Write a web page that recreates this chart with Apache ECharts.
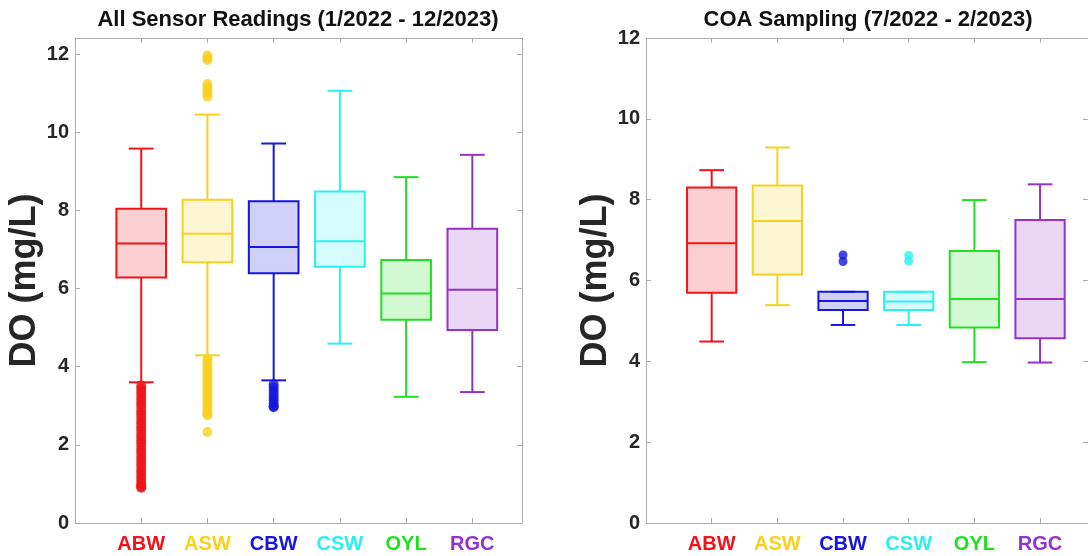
<!DOCTYPE html>
<html>
<head>
<meta charset="utf-8">
<script src="https://cdn.jsdelivr.net/npm/echarts@6/dist/echarts.min.js"></script>
<style>
html,body{margin:0;padding:0;background:#ffffff;}
#chart{width:1088px;height:556px;}
</style>
</head>
<body>
<div id="chart"></div>
<script>
// ---------- data ----------
const categories = ['ABW', 'ASW', 'CBW', 'CSW', 'OYL', 'RGC'];
const colors = ['#ee1419', '#f7d11e', '#1616dc', '#2cf0f0', '#20e020', '#9432cc'];
const yTicks = [0, 2, 4, 6, 8, 10, 12];
const xTicks = [1, 2, 3, 4, 5, 6];

// All Sensor Readings (1/2022 - 12/2023)
const leftLow    = [3.60, 4.29, 3.65, 4.59, 3.23, 3.35];
const leftQ1     = [6.28, 6.67, 6.39, 6.56, 5.20, 4.94];
const leftMedian = [7.15, 7.40, 7.06, 7.21, 5.87, 5.97];
const leftQ3     = [8.04, 8.27, 8.23, 8.48, 6.73, 7.53];
const leftHigh   = [9.58, 10.45, 9.71, 11.06, 8.85, 9.42];

const leftOutABW = [3.52, 3.44, 3.36, 3.28, 3.19, 3.11, 3.03, 2.95, 2.86, 2.78, 2.70, 2.61, 2.53,
                    2.45, 2.37, 2.28, 2.20, 2.12, 2.04, 1.95, 1.87, 1.79, 1.70, 1.62, 1.54, 1.46,
                    1.37, 1.29, 1.21, 1.13, 1.05, 0.98, 0.93, 0.90];
const leftOutASW = [11.96, 11.90, 11.85, 11.23, 11.15, 11.07, 10.99, 10.91,
                    4.21, 4.13, 4.05, 3.96, 3.88, 3.80, 3.71, 3.63, 3.55, 3.46, 3.38, 3.30,
                    3.21, 3.13, 3.05, 2.96, 2.88, 2.80, 2.76, 2.33];
const leftOutCBW = [3.55, 3.47, 3.39, 3.30, 3.22, 3.14, 3.06, 2.99, 2.96];
const leftOutCSW = [];
const leftOutOYL = [];
const leftOutRGC = [];

// COA Sampling (7/2022 - 2/2023)
const rightLow    = [4.49, 5.39, 4.90, 4.90, 3.98, 3.97];
const rightQ1     = [5.70, 6.15, 5.27, 5.27, 4.84, 4.57];
const rightMedian = [6.92, 7.47, 5.49, 5.48, 5.54, 5.54];
const rightQ3     = [8.30, 8.35, 5.72, 5.72, 6.73, 7.50];
const rightHigh   = [8.73, 9.29, 5.72, 5.72, 7.99, 8.38];

const rightOutABW = [];
const rightOutASW = [];
const rightOutCBW = [6.63, 6.47];
const rightOutCSW = [6.62, 6.48];
const rightOutOYL = [];
const rightOutRGC = [];

const leftTitle = 'All Sensor Readings (1/2022 - 12/2023)';
const rightTitle = 'COA Sampling (7/2022 - 2/2023)';
const yName = 'DO (mg/L)';

// ---------- build ----------
const FONT = "'Liberation Sans', Arial, Helvetica, sans-serif";
const AX = '#adadad';
const TXT = '#262626';
const BOX_W = 0.75, CAP_W = 0.375;

function withAlpha(hex, a) {
  const n = parseInt(hex.slice(1), 16);
  return 'rgba(' + ((n >> 16) & 255) + ',' + ((n >> 8) & 255) + ',' + (n & 255) + ',' + a + ')';
}

function boxData(lo, q1, md, q3, hi) {
  return categories.map((c, i) => [i + 1, lo[i], q1[i], md[i], q3[i], hi[i]]);
}
function outData(lists) {
  const out = [];
  lists.forEach((arr, i) => arr.forEach(v => out.push({ value: [i + 1, v], itemStyle: { color: colors[i] } })));
  return out;
}

function renderBox(params, api) {
  const x = api.value(0);
  const col = colors[params.dataIndex];
  const pLo = api.coord([x, api.value(1)]);
  const pQ1 = api.coord([x, api.value(2)]);
  const pMd = api.coord([x, api.value(3)]);
  const pQ3 = api.coord([x, api.value(4)]);
  const pHi = api.coord([x, api.value(5)]);
  const bw = api.size([BOX_W, 0])[0];
  const cw = api.size([CAP_W, 0])[0];
  const cx = pMd[0];
  const ls = { stroke: col, lineWidth: 2, fill: 'none' };
  return {
    type: 'group',
    children: [
      { type: 'line', shape: { x1: cx, y1: pQ3[1], x2: cx, y2: pHi[1] }, style: ls },
      { type: 'line', shape: { x1: cx, y1: pQ1[1], x2: cx, y2: pLo[1] }, style: ls },
      { type: 'line', shape: { x1: cx - cw / 2, y1: pHi[1], x2: cx + cw / 2, y2: pHi[1] }, style: ls },
      { type: 'line', shape: { x1: cx - cw / 2, y1: pLo[1], x2: cx + cw / 2, y2: pLo[1] }, style: ls },
      { type: 'rect', shape: { x: cx - bw / 2, y: pQ3[1], width: bw, height: pQ1[1] - pQ3[1] },
        style: { fill: withAlpha(col, 0.2), stroke: col, lineWidth: 2 } },
      { type: 'line', shape: { x1: cx - bw / 2, y1: pMd[1], x2: cx + bw / 2, y2: pMd[1] }, style: ls }
    ]
  };
}

const rich = {};
categories.forEach((c, i) => {
  rich['c' + i] = { color: colors[i], fontWeight: 'bold', fontSize: 20, fontFamily: FONT };
});

function xAxes(grid, max) {
  const common = {
    gridIndex: grid, type: 'value', min: 0, max: max,
    axisLine: { show: true, onZero: false, lineStyle: { color: AX, width: 1 } },
    axisTick: { show: true, inside: true, length: 5, customValues: xTicks, lineStyle: { color: AX, width: 1 } },
    splitLine: { show: false }
  };
  return [
    Object.assign({}, common, {
      position: 'bottom',
      axisLabel: {
        show: true, customValues: xTicks, margin: 11,
        formatter: v => { const i = Math.round(v) - 1; return '{c' + i + '|' + categories[i] + '}'; },
        rich: rich
      }
    }),
    Object.assign({}, common, { position: 'top', axisLabel: { show: false } })
  ];
}
function yAxes(grid, max, gap) {
  const common = {
    gridIndex: grid, type: 'value', min: 0, max: max,
    axisLine: { show: true, onZero: false, lineStyle: { color: AX, width: 1 } },
    axisTick: { show: true, inside: true, length: 5, customValues: yTicks, lineStyle: { color: AX, width: 1 } },
    splitLine: { show: false }
  };
  return [
    Object.assign({}, common, {
      position: 'left',
      axisLabel: { show: true, customValues: yTicks, margin: 6, color: TXT, fontWeight: 'bold', fontSize: 20, fontFamily: FONT },
      name: yName, nameLocation: 'middle', nameGap: gap,
      nameTextStyle: { color: TXT, fontWeight: 'bold', fontSize: 36, fontFamily: FONT }
    }),
    Object.assign({}, common, { position: 'right', axisLabel: { show: false } })
  ];
}

const option = {
  backgroundColor: '#ffffff',
  animation: false,
  title: [
    { text: leftTitle, left: 298, top: 9, textAlign: 'center', padding: 0,
      textStyle: { color: '#111', fontWeight: 'bold', fontSize: 22, fontFamily: FONT } },
    { text: rightTitle, left: 868, top: 9, textAlign: 'center', padding: 0,
      textStyle: { color: '#111', fontWeight: 'bold', fontSize: 22, fontFamily: FONT } }
  ],
  grid: [
    { left: 75, top: 38, width: 447, height: 485, containLabel: false },
    { left: 646, top: 38, width: 444, height: 485, containLabel: false }
  ],
  xAxis: xAxes(0, 6.75).concat(xAxes(1, 6.73)),
  yAxis: yAxes(0, 12.41, 30).concat(yAxes(1, 12, 29)),
  series: [
    { type: 'custom', xAxisIndex: 0, yAxisIndex: 0, renderItem: renderBox,
      encode: { x: 0, y: [1, 2, 3, 4, 5] },
      data: boxData(leftLow, leftQ1, leftMedian, leftQ3, leftHigh) },
    { type: 'scatter', xAxisIndex: 0, yAxisIndex: 0, symbol: 'circle', symbolSize: 10,
      data: outData([leftOutABW, leftOutASW, leftOutCBW, leftOutCSW, leftOutOYL, leftOutRGC]) },
    { type: 'custom', xAxisIndex: 2, yAxisIndex: 2, renderItem: renderBox,
      encode: { x: 0, y: [1, 2, 3, 4, 5] },
      data: boxData(rightLow, rightQ1, rightMedian, rightQ3, rightHigh) },
    { type: 'scatter', xAxisIndex: 2, yAxisIndex: 2, symbol: 'circle', symbolSize: 9,
      data: outData([rightOutABW, rightOutASW, rightOutCBW, rightOutCSW, rightOutOYL, rightOutRGC]) }
  ]
};

const chart = echarts.init(document.getElementById('chart'), null, { renderer: 'canvas' });
chart.setOption(option);
</script>
</body>
</html>
